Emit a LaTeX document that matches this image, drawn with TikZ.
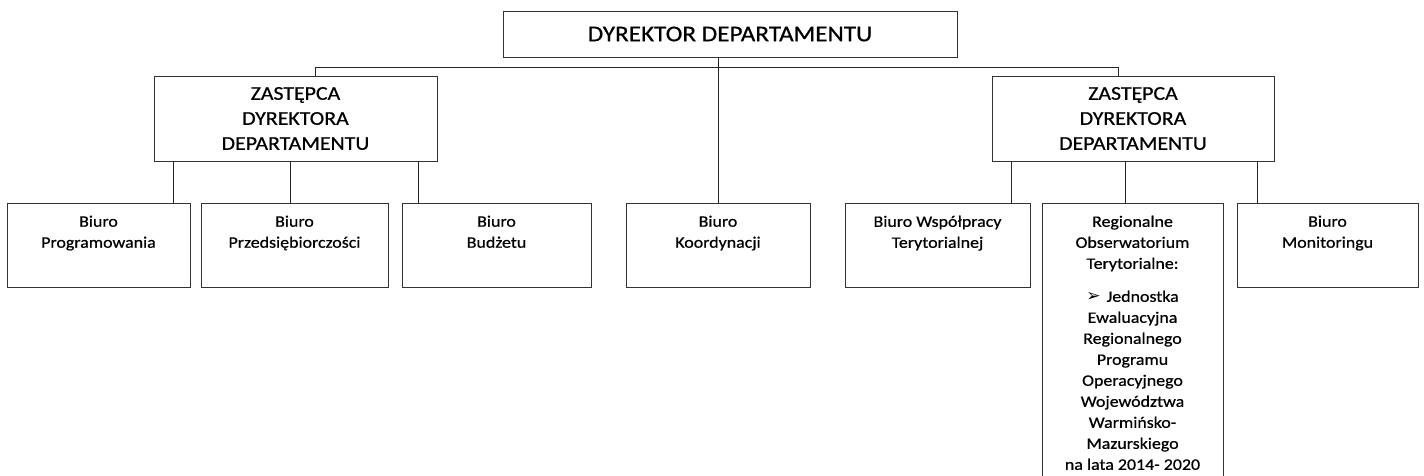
\documentclass[tikz,border=0pt]{standalone}
\usepackage{fontspec}
\setmainfont{Carlito}[FakeStretch=1.12,FakeBold=0.6]
\newfontfamily\dingfont{DejaVu Sans}
\usepackage{tikz}
\usetikzlibrary{calc}

\begin{document}
\begin{tikzpicture}[x=1pt,y=-1pt,
  box/.style={draw=black!80,line width=1pt,rectangle,inner sep=0pt},
  unit/.style={box,minimum width=#1,minimum height=84pt},
  utext/.style={anchor=north,yshift=-13pt,align=center,inner sep=0pt,font=\fontsize{16}{21}\selectfont},
  link/.style={black!85,line width=1pt}]
\useasboundingbox (0,0) rectangle (1424,475);
\clip (0,0) rectangle (1424,475);
\fill[white] (0,0) rectangle (1424,475);

\node[box,minimum width=454pt,minimum height=46pt,font=\fontsize{22.5}{27}\selectfont] (dyr) at (730,34) {DYREKTOR DEPARTAMENTU};
\node[box,minimum width=283pt,minimum height=85pt,align=center,font=\fontsize{19.5}{25}\selectfont] (zl) at (295.5,118.5) {ZASTĘPCA\\DYREKTORA\\DEPARTAMENTU};
\node[box,minimum width=282pt,minimum height=85pt,align=center,font=\fontsize{19.5}{25}\selectfont] (zr) at (1133,118.5) {ZASTĘPCA\\DYREKTORA\\DEPARTAMENTU};

\node[unit=183pt,label={[utext]north:{Biuro\\Programowania}}] (b1) at (98.5,245) {};
\node[unit=187pt,label={[utext]north:{Biuro\\Przedsiębiorczości}}] (b2) at (294.5,245) {};
\node[unit=189pt,label={[utext]north:{Biuro\\Budżetu}}] (b3) at (496.5,245) {};
\node[unit=184pt,label={[utext]north:{Biuro\\Koordynacji}}] (b4) at (718,245) {};
\node[unit=185pt,label={[utext]north:{Biuro Współpracy\\Terytorialnej}}] (b5) at (937.5,245) {};
\node[unit=181pt,minimum height=297pt,label={[utext]north:{Regionalne\\Obserwatorium\\Terytorialne:\\[12pt]
  {\dingfont\fontsize{17}{17}\selectfont ➢}\hspace{6pt}Jednostka\\Ewaluacyjna\\Regionalnego\\Programu\\Operacyjnego\\Województwa\\Warmińsko-\\Mazurskiego\\na lata 2014- 2020}}] (b6) at (1132.5,351.5) {};
\node[unit=181pt,label={[utext]north:{Biuro\\Monitoringu}}] (b7) at (1327.5,245) {};

\coordinate (busl) at (315,67);
\coordinate (busr) at (1118,67);
\draw[link] (b4.north |- dyr.south) -- (b4.north);
\draw[link] (busl |- zl.north) -- (busl) -- (busr) -- (busr |- zr.north);
\foreach \u/\p/\s in {b1.north east/zl/-17,b2.north/zl/-4.5,b3.north west/zl/17,b5.north east/zr/-19,b6.north/zr/-7.5,b7.north west/zr/21}{
  \coordinate (t) at ([xshift=\s pt]\u);
  \draw[link] (t |- \p.south) -- (t);
}
\end{tikzpicture}
\end{document}
